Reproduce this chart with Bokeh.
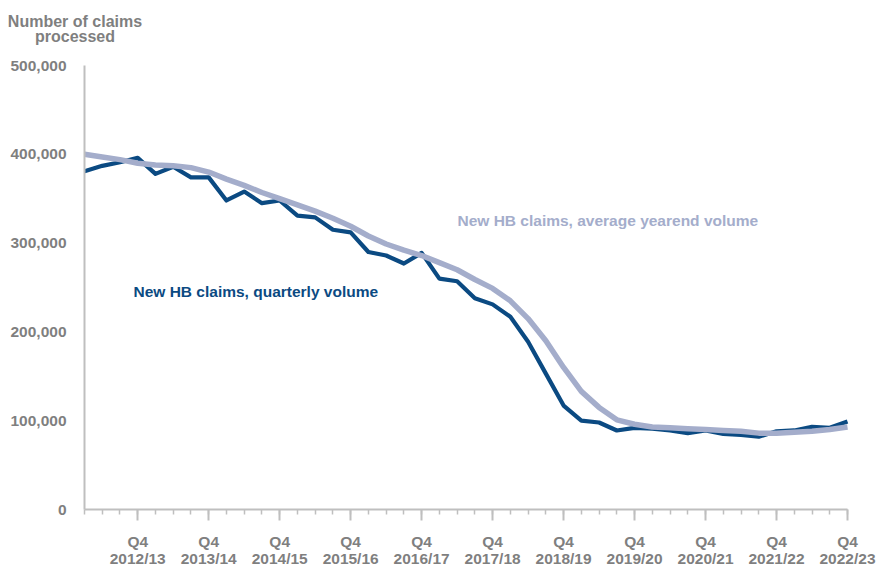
from bokeh.plotting import figure
from bokeh.models import Range1d, FixedTicker, NumeralTickFormatter, Label
from bokeh.embed import file_html
from bokeh.resources import INLINE

# ---- data ----
years = ["2012/13", "2013/14", "2014/15", "2015/16", "2016/17", "2017/18",
         "2018/19", "2019/20", "2020/21", "2021/22", "2022/23"]
quarters = ["Q1", "Q2", "Q3", "Q4"]
period_labels = [f"{q} {y}" for y in years for q in quarters]

quarterly_volume = [381000, 387000, 391000, 396000, 378000, 386000, 374000, 374000,
                    348000, 358000, 345000, 348000, 331000, 329000, 315000, 312000,
                    290000, 286000, 277000, 289000, 260000, 257000, 238000, 231000,
                    217000, 189000, 153000, 117000, 100000, 98000, 89000, 92000,
                    91000, 89000, 86000, 89000, 85000, 84000, 82000, 88000,
                    89000, 93000, 92000, 99000]

yearend_average = [400000, 397000, 394000, 390000, 388000, 387000, 385000, 380000,
                   372000, 365000, 357000, 350000, 343000, 336000, 328000, 319000,
                   308000, 299000, 292000, 286000, 278000, 270000, 259000, 249000,
                   235000, 215000, 190000, 160000, 133000, 115000, 101000, 96000,
                   93000, 92000, 91000, 90000, 89000, 88000, 86000, 86000,
                   87000, 88000, 90000, 93000]

y_ticks = [0, 100000, 200000, 300000, 400000, 500000]
y_title = ["Number of claims", "processed"]
series_names = ["New HB claims, quarterly volume", "New HB claims, average yearend volume"]

# ---- styling ----
DARK = "#0B4A82"
LIGHT = "#A4ADCB"
GREY = "#7F7F7F"
AXIS = "#BFBFBF"
FONT = "Liberation Sans"

idx = list(range(len(period_labels)))
n = len(idx)

p = figure(width=877, height=569, output_backend="svg", toolbar_location=None,
           x_range=Range1d(0, 43.226), y_range=Range1d(0, 500000),
           min_border_left=84, min_border_right=26, min_border_top=65, min_border_bottom=57)
p.outline_line_color = None
p.grid.visible = False
p.background_fill_color = "white"
p.title.visible = False

p.line(idx, quarterly_volume, line_color=DARK, line_width=4.2, line_join="round")
p.line(idx, yearend_average, line_color=LIGHT, line_width=5.5, line_join="round")

# y axis
ya = p.yaxis[0]
ya.ticker = FixedTicker(ticks=y_ticks)
ya.formatter = NumeralTickFormatter(format="0,0")
ya.axis_line_color = AXIS
ya.axis_line_width = 2
ya.major_tick_line_color = None
ya.minor_tick_line_color = None
ya.major_label_standoff = 12
ya.major_label_text_font = FONT
ya.major_label_text_font_style = "bold"
ya.major_label_text_font_size = "15.5px"
ya.major_label_text_color = GREY

# x axis
xa = p.xaxis[0]
major = [i for i in idx if period_labels[i].startswith("Q4")]
xa.ticker = FixedTicker(ticks=major, minor_ticks=idx)
xa.major_label_overrides = {i: period_labels[i].replace(" ", "\n") for i in major}
xa.bounds = (0, n - 1)
xa.axis_line_color = AXIS
xa.axis_line_width = 2
xa.major_tick_line_color = AXIS
xa.major_tick_line_width = 2
xa.major_tick_in = 0
xa.major_tick_out = 11
xa.minor_tick_line_color = AXIS
xa.minor_tick_line_width = 1.5
xa.minor_tick_in = 0
xa.minor_tick_out = 5
xa.major_label_standoff = 12
xa.major_label_text_font = FONT
xa.major_label_text_font_style = "bold"
xa.major_label_text_font_size = "15.5px"
xa.major_label_text_color = GREY
xa.major_label_text_line_height = 1.0

# title (two centred lines) placed in the panel above the frame
for txt, yv in zip(y_title, [44, 12]):
    p.add_layout(Label(x=-9.5, y=yv, x_units="screen", y_units="screen", text=txt,
                       text_align="center", text_baseline="middle",
                       text_font=FONT, text_font_style="bold", text_font_size="16px",
                       text_color=GREY), "above")

# series labels
p.add_layout(Label(x=2.76, y=246000, text=series_names[0], text_align="left",
                   text_baseline="middle", text_font=FONT, text_font_style="bold",
                   text_font_size="15.5px", text_color=DARK))
p.add_layout(Label(x=21.02, y=325500, text=series_names[1], text_align="left",
                   text_baseline="middle", text_font=FONT, text_font_style="bold",
                   text_font_size="15.5px", text_color=LIGHT))

open("out.html", "w").write(file_html(p, INLINE))
